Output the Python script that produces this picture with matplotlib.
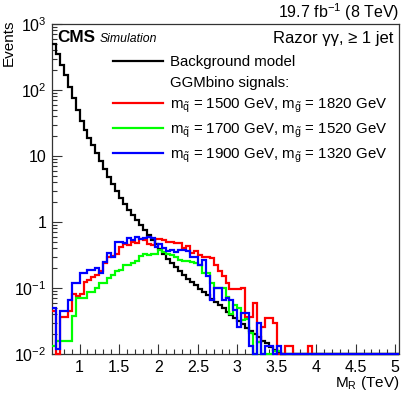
import numpy as np
import matplotlib
matplotlib.use("Agg")
import matplotlib.pyplot as plt
from matplotlib.lines import Line2D
from matplotlib.ticker import FixedLocator, FuncFormatter, MultipleLocator, LogLocator, NullFormatter

plt.rcParams['font.family'] = ['Liberation Sans', 'DejaVu Sans']
plt.rcParams['mathtext.fontset'] = 'custom'
plt.rcParams['mathtext.rm'] = 'Liberation Sans'
plt.rcParams['mathtext.it'] = 'Liberation Sans:italic'
plt.rcParams['mathtext.bf'] = 'Liberation Sans:bold'

# ---- data (bins of 0.05 TeV starting at 0.65 TeV) ----
bin_lo = 0.65
bin_w = 0.05
n_bins = 88

background = [501, 355, 240, 166, 112, 76, 50, 34, 25, 19,
              14.5, 11.0, 8.3, 6.3, 4.8, 3.7, 2.9, 2.3, 1.86, 1.51,
              1.26, 1.07, 0.89, 0.76, 0.63, 0.54, 0.457, 0.389, 0.331, 0.275,
              0.240, 0.209, 0.182, 0.158, 0.138, 0.123, 0.110, 0.098, 0.087, 0.078,
              0.069, 0.062, 0.055, 0.049, 0.044, 0.039, 0.035, 0.032, 0.028, 0.025,
              0.022, 0.020, 0.018, 0.016, 0.0145, 0.0129, 0.0115, 0.0105]

sig_1500 = [0.045, 0.0, 0.036, 0.036, 0.045, 0.08, 0.075, 0.08, 0.125, 0.13,
            0.145, 0.155, 0.18, 0.24, 0.30, 0.31, 0.33, 0.42, 0.47, 0.45,
            0.50, 0.48, 0.55, 0.53, 0.47, 0.45, 0.55, 0.56, 0.53, 0.50,
            0.50, 0.48, 0.48, 0.40, 0.43, 0.34, 0.36, 0.32, 0.30, 0.30,
            0.28, 0.22, 0.18, 0.15, 0.12, 0.095, 0.095, 0.095, 0.10, 0.036,
            0.036, 0.06, 0.015, 0.026, 0.035, 0.035, 0.029, 0.0, 0.0, 0.013,
            0.013, 0.0, 0.0, 0.0, 0.0, 0.013]

sig_1700 = [0.013, 0.016, 0.016, 0.016, 0.016, 0.038, 0.07, 0.07, 0.07, 0.088,
            0.088, 0.10, 0.12, 0.12, 0.14, 0.16, 0.18, 0.19, 0.22, 0.22,
            0.24, 0.26, 0.31, 0.33, 0.32, 0.33, 0.33, 0.37, 0.35, 0.33,
            0.32, 0.29, 0.27, 0.26, 0.26, 0.25, 0.24, 0.22, 0.17, 0.17,
            0.12, 0.10, 0.10, 0.10, 0.073, 0.04, 0.055, 0.05, 0.033, 0.034,
            0.021, 0.0, 0.015, 0.0, 0.0, 0.0, 0.011, 0.011]

sig_1900 = [0.05, 0.012, 0.045, 0.045, 0.066, 0.12, 0.12, 0.17, 0.17, 0.19,
            0.19, 0.20, 0.17, 0.25, 0.34, 0.30, 0.50, 0.50, 0.48, 0.58,
            0.53, 0.60, 0.56, 0.57, 0.60, 0.57, 0.42, 0.47, 0.41, 0.36,
            0.38, 0.35, 0.38, 0.38, 0.36, 0.30, 0.30, 0.22, 0.27, 0.15,
            0.066, 0.10, 0.10, 0.066, 0.07, 0.066, 0.047, 0.026, 0.042, 0.042,
            0.013, 0.0, 0.029, 0.0, 0.013, 0.013, 0.0, 0.013]

labels = ["Background model",
          "GGMbino signals:",
          r"m$_{\mathrm{\tilde{q}}}$ = 1500 GeV, m$_{\mathrm{\tilde{g}}}$ = 1820 GeV",
          r"m$_{\mathrm{\tilde{q}}}$ = 1700 GeV, m$_{\mathrm{\tilde{g}}}$ = 1520 GeV",
          r"m$_{\mathrm{\tilde{q}}}$ = 1900 GeV, m$_{\mathrm{\tilde{g}}}$ = 1320 GeV"]
colors = ["black", "#ff0000", "#00ff00", "#0000ff"]

y_ticks = [1e-2, 1e-1, 1, 10, 1e2, 1e3]
x_ticks = [1, 1.5, 2, 2.5, 3, 3.5, 4, 4.5, 5]

# ---- figure ----
W, H = 411, 395
fig = plt.figure(figsize=(W / 100, H / 100), dpi=100)
ax = fig.add_axes([52 / W, 1 - 354 / H, (399 - 52) / W, (354 - 24) / H])

edges = bin_lo + bin_w * np.arange(n_bins + 1)
ymin, ymax = 1e-2, 1e3

def pad(v):
    a = np.zeros(n_bins)
    a[:len(v)] = v
    return np.where(a > 0, a, ymin * 1.01)

series = [background, sig_1500, sig_1700, sig_1900]
for vals, c in zip(series, colors):
    ax.stairs(pad(vals), edges, color=c, lw=1.6, baseline=None, clip_on=False, zorder=3)

ax.set_yscale('log')
ax.set_xlim(edges[0], edges[-1])
ax.set_ylim(ymin, ymax)

def yfmt(v, pos):
    if abs(v - 1) < 1e-9:
        return "1"
    if abs(v - 10) < 1e-9:
        return "10"
    e = int(round(np.log10(v)))
    return r"10$^{%d}$" % e

ax.yaxis.set_major_locator(FixedLocator(y_ticks))
ax.yaxis.set_major_formatter(FuncFormatter(yfmt))
ax.yaxis.set_minor_locator(LogLocator(base=10, subs=np.arange(2, 10)))
ax.yaxis.set_minor_formatter(NullFormatter())
ax.xaxis.set_major_locator(FixedLocator(x_ticks))
ax.xaxis.set_major_formatter(FuncFormatter(lambda v, p: ("%g" % v)))
ax.xaxis.set_minor_locator(MultipleLocator(0.1))

ax.tick_params(which='both', direction='in', top=False, right=False,
               labelsize=11.5, width=0.8, color='#333333')
ax.tick_params(which='major', length=7)
ax.tick_params(which='minor', length=3.5)
ax.tick_params(axis='x', pad=4)
ax.tick_params(axis='y', pad=4)
for s in ax.spines.values():
    s.set_linewidth(0.9)
    s.set_color('#333333')

# axis labels
fig.text(399 / W, 1 - 387 / H, r"M$_{\mathrm{R}}$ (TeV)", ha='right', va='baseline', fontsize=11)
fig.text(9 / W, 1 - 20 / H, "Events", rotation=90, ha='center', va='top', fontsize=11)

# header texts
fig.text(399 / W, 1 - 18 / H, r"19.7 fb$^{-1}$ (8 TeV)", ha='right', va='baseline', fontsize=11.5)
fig.text(57 / W, 1 - 42 / H, "CMS", ha='left', va='baseline', fontsize=12.3, fontweight='bold')
fig.text(100 / W, 1 - 42 / H, "Simulation", ha='left', va='baseline', fontsize=8.8, style='italic')
fig.text(393 / W, 1 - 43 / H, "Razor γγ, ≥ 1 jet", ha='right', va='baseline', fontsize=12)

# legend
handles = [Line2D([], [], color=colors[0], lw=1.6),
           Line2D([], [], color='none', lw=0),
           Line2D([], [], color=colors[1], lw=1.6),
           Line2D([], [], color=colors[2], lw=1.6),
           Line2D([], [], color=colors[3], lw=1.6)]
leg = ax.legend(handles, labels, loc='upper left',
                bbox_to_anchor=(113 / W, 1 - 55 / H), bbox_transform=fig.transFigure,
                frameon=False, fontsize=10.8, handlelength=3.3, handletextpad=0.5,
                labelspacing=0.45, borderpad=0, borderaxespad=0)

fig.savefig("out.png", dpi=100)
